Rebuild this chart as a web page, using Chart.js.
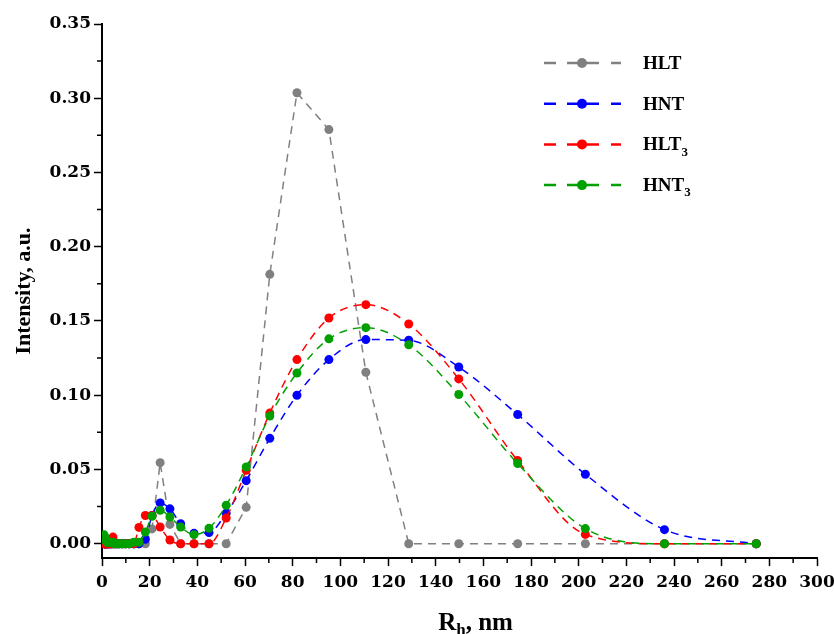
<!DOCTYPE html>
<html>
<head>
<meta charset="utf-8">
<title>Intensity vs Rh</title>
<script src="https://cdn.jsdelivr.net/npm/chart.js@4.4.0/dist/chart.umd.min.js"></script>
<style>
    html, body { margin: 0; padding: 0; background: #fff; }
    #wrap { width: 834px; height: 634px; }
</style>
</head>
<body>
<div id="wrap"><canvas id="sizeChart" width="834" height="634"></canvas></div>
<script>
// ==================== DATA ====================

// hydrodynamic radius bins, nm
const rh = [0.87, 1.02, 1.18, 1.38, 1.6, 1.86, 2.17, 2.52, 2.93, 3.41, 3.96, 4.61, 5.37, 6.24, 7.26, 8.45, 9.8, 11.4, 13.3, 15.5,
    18.2, 21.0, 24.4, 28.5, 33.0, 38.6, 44.9, 52.1, 60.5, 70.4, 81.8, 95.2, 110.7, 128.7, 149.7, 174.4, 202.8, 236.0, 274.5];

const hlt = [0, 0, 0, 0, 0, 0, 0, 0, 0, 0, 0, 0, 0, 0, 0, 0, 0, 0, 0, 0,
    0, 0.01, 0.0546, 0.013, 0, 0, 0, 0, 0.0245, 0.1814, 0.3037, 0.2789, 0.1155, 0, 0, 0, 0, 0, 0];

const hnt = [0, 0, 0, 0, 0, 0, 0, 0, 0, 0, 0, 0, 0, 0, 0, 0, 0, 0, 0, 0,
    0.003, 0.019, 0.0275, 0.0235, 0.0135, 0.007, 0.0075, 0.0205, 0.0425, 0.071, 0.100, 0.124, 0.1375, 0.137, 0.119, 0.087, 0.0468, 0.0095, 0];

const hlt3 = [0, 0, 0, 0, 0, 0, 0, 0, 0, 0, 0, 0.0045, 0, 0, 0, 0, 0, 0, 0, 0.011,
    0.019, 0.019, 0.0113, 0.0025, 0, 0, 0, 0.0173, 0.0495, 0.088, 0.124, 0.152, 0.161, 0.148, 0.111, 0.056, 0.0063, 0, 0];

const hnt3 = [0.006, 0.005, 0.004, 0.003, 0.002, 0.002, 0.001, 0.001, 0.001, 0.001, 0.001, 0.001, 0, 0, 0, 0, 0, 0, 0.001, 0.001,
    0.0079, 0.0185, 0.0225, 0.018, 0.0113, 0.0061, 0.0104, 0.0259, 0.0517, 0.086, 0.115, 0.138, 0.1455, 0.134, 0.1005, 0.054, 0.0102, 0, 0];

const seriesNames = ['HLT', 'HNT', 'HLT', 'HNT'];
const seriesSubs = ['', '', '3', '3'];
const seriesColors = ['#808080', '#0000ff', '#ff0000', '#00a000'];
const seriesValues = [hlt, hnt, hlt3, hnt3];

const serif = "'Liberation Serif', 'Times New Roman', serif";
const tickFont = "'DejaVu Serif', serif";

// ==================== PLUGINS ====================

// small ticks half way between the labelled ones
const minorTicks = {
    id: 'minorTicks',
    afterDraw(chart) {
        const c = chart.ctx;
        const xs = chart.scales.x;
        const ys = chart.scales.y;
        c.save();
        c.strokeStyle = '#000';
        c.lineWidth = 1.5;
        c.beginPath();
        for (let i = 0; i < xs.ticks.length - 1; i++) {
            const px = xs.getPixelForValue((xs.ticks[i].value + xs.ticks[i + 1].value) / 2);
            c.moveTo(px, xs.top);
            c.lineTo(px, xs.top + 5);
        }
        for (let i = 0; i < ys.ticks.length - 1; i++) {
            const py = ys.getPixelForValue((ys.ticks[i].value + ys.ticks[i + 1].value) / 2);
            c.moveTo(ys.right, py);
            c.lineTo(ys.right - 5, py);
        }
        c.stroke();
        c.restore();
    }
};

// Origin style legend: dashed sample, dot, bold name with subscript
const sampleLegend = {
    id: 'sampleLegend',
    afterDraw(chart) {
        const c = chart.ctx;
        c.save();
        chart.data.datasets.forEach((ds, i) => {
            const y = 63 + i * 40.7;
            c.strokeStyle = ds.borderColor;
            c.lineWidth = 2.5;
            c.beginPath();
            c.moveTo(544, y); c.lineTo(556, y);
            c.moveTo(567, y); c.lineTo(599, y);
            c.moveTo(611, y); c.lineTo(621, y);
            c.stroke();
            c.fillStyle = ds.borderColor;
            c.beginPath();
            c.arc(582, y, 5, 0, Math.PI * 2);
            c.fill();

            c.fillStyle = '#000';
            c.textBaseline = 'middle';
            c.textAlign = 'left';
            c.font = 'bold 19px ' + serif;
            c.fillText(seriesNames[i], 643, y + 1);
            if (seriesSubs[i]) {
                const w = c.measureText(seriesNames[i]).width;
                c.font = 'bold 13px ' + serif;
                c.fillText(seriesSubs[i], 643 + w, y + 8);
            }
        });
        c.restore();
    }
};

// x axis title with subscript h
const xTitle = {
    id: 'xTitle',
    afterDraw(chart) {
        const c = chart.ctx;
        const xs = chart.scales.x;
        c.save();
        c.fillStyle = '#000';
        c.textBaseline = 'alphabetic';
        c.textAlign = 'left';
        const big = 'bold 25px ' + serif;
        const small = 'bold 17px ' + serif;
        c.font = big;
        const wR = c.measureText('R').width;
        const wTail = c.measureText(', nm').width;
        c.font = small;
        const wH = c.measureText('h').width;
        const total = wR + wH + wTail;
        let x = (xs.left + xs.right) / 2 + 16 - total / 2;
        const base = 630;
        c.font = big;
        c.fillText('R', x, base);
        x += wR;
        c.font = small;
        c.fillText('h', x, base + 5);
        x += wH;
        c.font = big;
        c.fillText(', nm', x, base);
        c.restore();
    }
};

// ==================== CHART ====================

function buildDatasets() {
    return seriesValues.map((vals, i) => ({
        label: seriesNames[i] + seriesSubs[i],
        data: rh.map((r, k) => ({ x: r, y: vals[k] })),
        borderColor: seriesColors[i],
        backgroundColor: seriesColors[i],
        borderWidth: 1.5,
        borderDash: [8, 6],
        pointRadius: 4.5,
        pointBorderWidth: 0,
        pointHoverRadius: 4.5,
        cubicInterpolationMode: i === 0 ? 'default' : 'monotone',
        tension: i === 0 ? 0 : 0.4,
        order: 4 - i
    }));
}

new Chart(document.getElementById('sizeChart'), {
    type: 'scatter',
    data: { datasets: buildDatasets() },
    options: {
        responsive: false,
        animation: false,
        devicePixelRatio: 1,
        showLine: true,
        layout: { padding: { top: 24, right: 17, left: 0, bottom: 0 } },
        plugins: {
            legend: { display: false },
            tooltip: { enabled: false }
        },
        scales: {
            x: {
                type: 'linear',
                min: 0,
                max: 300,
                afterFit(scale) {
                    scale.height = 76;
                    scale.paddingLeft = 0;
                    scale.paddingRight = 0;
                },
                border: { display: true, color: '#000', width: 2 },
                grid: { drawOnChartArea: false, drawTicks: true, tickLength: 8, tickColor: '#000', tickWidth: 1.5 },
                ticks: {
                    stepSize: 20,
                    padding: 6,
                    color: '#000',
                    maxRotation: 0,
                    font: { family: tickFont, size: 17, weight: 'bold' }
                }
            },
            y: {
                type: 'linear',
                min: -0.0096,
                max: 0.35,
                afterFit(scale) { scale.width = 102; },
                border: { display: true, color: '#000', width: 2 },
                grid: { drawOnChartArea: false, drawTicks: true, tickLength: 8, tickColor: '#000', tickWidth: 1.5 },
                ticks: {
                    stepSize: 0.05,
                    includeBounds: false,
                    padding: 3,
                    color: '#000',
                    font: { family: tickFont, size: 17, weight: 'bold' },
                    callback: v => v.toFixed(2)
                },
                title: {
                    display: true,
                    text: 'Intensity, a.u.',
                    color: '#000',
                    font: { family: serif, size: 22, weight: 'bold' },
                    padding: { top: 11, bottom: 0 }
                }
            }
        }
    },
    plugins: [minorTicks, sampleLegend, xTitle]
});
</script>
</body>
</html>
